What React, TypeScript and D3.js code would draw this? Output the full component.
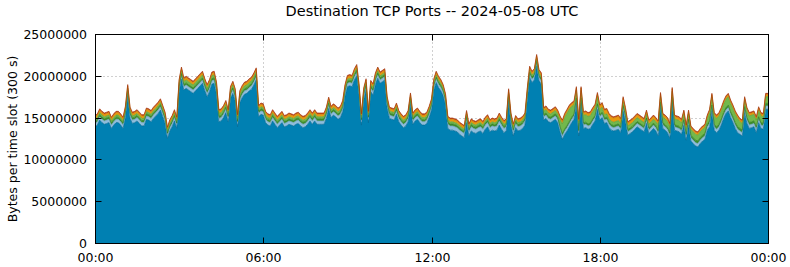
import React from "react";
import * as d3 from "d3";

// 5-minute slots, 00:00 .. 24:00 (289 points), values in millions of bytes per slot
const slotMinutes = 5;

const blueTcp = [
  13.9,14.1,14.7,14.4,14.2,14.3,14.4,13.7,14.1,14.4,14.4,14.1,
  13.7,15.0,17.6,14.9,14.3,14.4,14.6,14.3,14.0,14.0,14.8,14.7,
  14.5,14.9,15.2,15.5,15.9,15.1,14.3,12.5,13.4,13.9,14.6,13.7,
  18.1,19.6,18.3,18.5,18.3,18.1,17.9,18.2,18.5,18.8,19.1,18.2,
  17.5,18.1,19.0,19.1,17.8,14.5,14.6,15.0,15.6,14.5,17.3,17.9,
  17.0,13.9,16.8,17.4,17.8,17.9,18.2,18.4,18.9,19.5,15.1,15.4,
  15.3,14.4,14.1,14.0,14.6,14.2,13.8,14.1,14.4,13.9,14.0,14.2,
  14.1,14.0,14.2,14.3,14.0,13.8,13.9,14.2,14.6,14.2,14.6,14.2,
  14.2,14.2,14.2,14.9,16.1,15.0,15.3,15.1,14.8,15.0,15.7,17.6,
  18.7,18.8,18.7,19.5,20.0,17.7,14.1,17.2,18.3,14.4,18.1,17.7,
  19.0,19.7,19.1,19.3,19.5,16.2,14.9,14.8,14.7,15.4,14.5,14.1,
  13.8,14.0,14.5,16.6,14.2,14.6,14.8,14.4,14.1,14.1,14.3,15.0,
  15.9,18.3,19.2,18.6,18.2,17.6,16.5,13.7,13.5,13.5,13.4,13.3,
  13.0,12.8,12.6,14.4,12.8,13.4,13.2,13.1,13.3,13.4,13.1,13.6,
  13.9,13.3,13.5,13.4,13.5,14.1,13.6,13.2,13.4,17.0,14.1,12.8,
  13.8,13.4,13.5,13.7,14.1,17.2,19.8,19.2,19.5,21.2,19.4,19.0,
  14.7,14.9,14.5,14.4,14.6,14.8,14.4,13.3,12.4,13.0,13.4,13.9,
  14.4,14.8,16.7,12.8,16.7,13.7,13.8,13.6,13.7,14.2,14.6,16.0,
  14.7,15.0,14.3,14.4,13.8,13.5,13.4,13.5,13.6,13.2,15.8,14.6,
  12.9,13.1,13.3,13.6,13.9,13.7,13.5,13.3,14.3,13.1,13.4,13.7,
  13.4,12.8,16.2,13.7,13.5,13.2,12.5,16.8,13.5,13.4,13.3,13.0,
  14.1,12.3,14.1,12.2,11.9,11.6,11.5,11.9,12.2,12.4,13.5,13.9,
  15.8,13.5,13.2,13.5,14.1,14.9,15.5,15.8,15.0,14.4,13.7,13.2,
  13.0,12.8,15.6,14.3,13.7,13.8,13.9,13.2,14.4,13.7,13.6,16.0,
  16.0,
];

const lightBlueTcp = [
  .4,.4,.4,.4,.4,.4,.4,.4,.4,.4,.4,.4,
  .4,.4,.4,.4,.4,.4,.4,.4,.4,.4,.4,.4,
  .4,.4,.4,.4,.4,.4,.4,.4,.4,.4,.4,.4,
  .4,.4,.4,.4,.4,.4,.4,.4,.4,.4,.4,.4,
  .4,.4,.4,.4,.4,.4,.4,.4,.4,.4,.4,.4,
  .4,.4,.4,.4,.4,.4,.4,.4,.4,.4,.4,.4,
  .4,.4,.4,.4,.4,.4,.4,.4,.4,.4,.4,.4,
  .4,.4,.4,.4,.4,.4,.4,.4,.4,.4,.4,.4,
  .4,.4,.4,.4,.4,.4,.4,.4,.4,.4,.4,.4,
  .4,.4,.4,.4,.4,.4,.4,.4,.4,.4,.4,.4,
  .4,.4,.4,.4,.4,.4,.4,.4,.4,.4,.4,.4,
  .4,.4,.4,.4,.4,.4,.4,.4,.4,.4,.4,.4,
  .4,.4,.4,.4,.4,.4,.4,.5,.5,.5,.5,.5,
  .5,.5,.5,.5,.5,.5,.5,.5,.5,.5,.5,.5,
  .5,.5,.5,.5,.5,.5,.5,.5,.5,.5,.5,.5,
  .5,.5,.5,.5,.5,.4,.4,.4,.4,.4,.4,.4,
  .4,.4,.4,.4,.4,.4,.4,.4,.4,.4,.4,.4,
  .4,.4,.4,.4,.4,.4,.4,.4,.4,.4,.4,.4,
  .4,.4,.4,.4,.4,.4,.4,.4,.4,.4,.4,.4,
  .4,.4,.4,.4,.4,.4,.4,.4,.4,.4,.4,.4,
  .4,.4,.4,.4,.4,.4,.4,.4,.4,.4,.4,.4,
  .4,.4,.4,.4,.4,.4,.4,.4,.4,.4,.4,.4,
  .4,.4,.4,.4,.4,.4,.4,.4,.4,.4,.4,.4,
  .4,.4,.4,.4,.4,.4,.4,.4,.4,.4,.4,.4,
  .4,
];

const darkGreenTcp = [
  .25,.25,.25,.25,.25,.25,.25,.25,.25,.25,.25,.25,
  .25,.25,.25,.25,.25,.25,.25,.25,.25,.25,.25,.25,
  .25,.25,.25,.25,.25,.25,.25,.25,.25,.25,.25,.25,
  .25,.25,.25,.25,.25,.25,.25,.25,.25,.25,.25,.25,
  .25,.25,.25,.25,.25,.25,.25,.25,.25,.25,.25,.25,
  .25,.25,.25,.25,.25,.25,.25,.25,.25,.25,.25,.25,
  .25,.25,.25,.25,.25,.25,.25,.25,.25,.25,.25,.25,
  .25,.25,.25,.25,.25,.25,.25,.25,.25,.25,.25,.25,
  .25,.25,.25,.25,.25,.25,.25,.25,.25,.25,.25,.25,
  .25,.25,.25,.25,.25,.25,.25,.25,.25,.25,.25,.25,
  .25,.25,.25,.25,.25,.25,.25,.25,.25,.25,.25,.25,
  .25,.25,.25,.25,.25,.25,.25,.25,.25,.25,.25,.25,
  .25,.25,.25,.25,.25,.25,.25,.25,.25,.25,.25,.25,
  .25,.25,.25,.25,.25,.25,.25,.25,.25,.25,.25,.25,
  .25,.25,.25,.25,.25,.25,.25,.25,.25,.25,.25,.25,
  .25,.25,.25,.25,.25,.25,.25,.25,.25,.25,.25,.25,
  .25,.25,.25,.25,.25,.25,.25,.25,.25,.25,.25,.25,
  .25,.25,.25,.25,.25,.25,.25,.25,.25,.25,.25,.25,
  .25,.25,.25,.25,.25,.25,.25,.25,.25,.25,.25,.25,
  .25,.25,.25,.25,.25,.25,.25,.25,.25,.25,.25,.25,
  .25,.25,.25,.25,.25,.25,.25,.25,.25,.25,.25,.25,
  .25,.3,.3,.3,.3,.3,.3,.3,.3,.3,.3,.3,
  .3,.3,.3,.3,.3,.3,.3,.3,.3,.3,.3,.3,
  .3,.3,.3,.3,.3,.3,.3,.3,.3,.3,.3,.3,
  .3,
];

const lightGreenTcp = [
  .25,.25,.25,.25,.25,.25,.25,.25,.25,.25,.25,.25,
  .25,.25,.25,.25,.25,.25,.25,.25,.25,.25,.25,.25,
  .25,.25,.25,.25,.25,.25,.25,.25,.25,.25,.25,.25,
  .35,.35,.35,.35,.35,.35,.35,.35,.35,.35,.35,.35,
  .35,.35,.35,.35,.35,.35,.35,.35,.35,.35,.35,.35,
  .35,.35,.35,.35,.35,.35,.35,.35,.35,.35,.25,.25,
  .25,.25,.25,.25,.25,.25,.25,.25,.25,.25,.25,.25,
  .25,.25,.25,.25,.25,.25,.25,.25,.25,.25,.25,.25,
  .25,.25,.25,.25,.25,.25,.25,.25,.25,.25,.25,.25,
  .25,.25,.25,.25,.25,.25,.25,.25,.25,.25,.25,.25,
  .25,.25,.25,.25,.25,.25,.25,.25,.25,.25,.25,.25,
  .25,.25,.25,.25,.25,.25,.25,.25,.25,.25,.25,.25,
  .25,.25,.25,.25,.25,.25,.25,.25,.25,.25,.25,.25,
  .25,.25,.25,.25,.25,.25,.25,.25,.25,.25,.25,.25,
  .25,.25,.25,.25,.25,.25,.25,.25,.25,.25,.25,.25,
  .25,.25,.25,.25,.25,.25,.25,.25,.25,.25,.25,.25,
  .4,.4,.4,.4,.4,.4,.4,.8,1.2,1.4,1.5,1.5,
  1.3,1.1,.9,.9,.9,.9,.9,.9,.9,.9,.9,.9,
  .6,.6,.4,.4,.4,.4,.4,.4,.4,.4,.4,.45,
  .45,.45,.45,.45,.45,.45,.45,.45,.45,.45,.45,.45,
  .45,.7,.7,.7,.7,.7,.7,.7,.7,.7,.7,.7,
  .7,.7,.7,.7,.7,.7,.7,.7,.7,.7,.7,1.0,
  1.0,1.0,1.0,1.0,1.0,1.0,1.0,1.0,1.0,1.0,1.0,1.0,
  .8,.8,.8,.8,.8,.8,.8,.8,.8,.8,.8,.8,
  .8,
];

const orangeTcp = [
  .3,.3,.3,.3,.3,.3,.3,.3,.3,.3,.3,.3,
  .3,.3,.3,.3,.3,.3,.3,.3,.3,.3,.3,.3,
  .3,.3,.3,.3,.3,.3,.3,.3,.3,.3,.3,.3,
  .3,.3,.3,.3,.3,.3,.3,.3,.3,.3,.3,.3,
  .3,.3,.3,.3,.3,.3,.3,.3,.3,.3,.3,.3,
  .3,.3,.3,.3,.3,.3,.3,.3,.3,.3,.3,.3,
  .3,.3,.3,.3,.3,.3,.3,.3,.3,.3,.3,.3,
  .3,.3,.3,.3,.3,.3,.3,.3,.3,.3,.3,.3,
  .3,.3,.3,.3,.3,.3,.3,.3,.3,.3,.3,.3,
  .3,.3,.3,.3,.3,.3,.3,.3,.3,.3,.3,.3,
  .3,.3,.3,.3,.3,.3,.3,.3,.3,.3,.3,.3,
  .3,.3,.3,.3,.3,.3,.3,.3,.3,.3,.3,.3,
  .3,.3,.3,.3,.3,.3,.3,.3,.3,.3,.3,.3,
  .3,.3,.3,.3,.3,.3,.3,.3,.3,.3,.3,.3,
  .3,.3,.3,.3,.3,.3,.3,.3,.3,.3,.3,.3,
  .3,.3,.3,.3,.3,.3,.3,.3,.3,.3,.3,.3,
  .3,.3,.3,.3,.3,.3,.3,.3,.3,.3,.3,.3,
  .3,.3,.3,.3,.3,.3,.3,.3,.3,.3,.3,.3,
  .4,.4,.5,.5,.5,.5,.5,.5,.5,.5,.5,.35,
  .35,.35,.35,.35,.35,.35,.35,.35,.35,.35,.35,.35,
  .35,.3,.3,.3,.3,.3,.3,.3,.3,.3,.3,.3,
  .3,.25,.25,.25,.25,.25,.25,.25,.25,.25,.25,.25,
  .25,.25,.25,.25,.25,.25,.25,.25,.25,.25,.25,.25,
  .25,.25,.25,.25,.25,.25,.25,.25,.25,.25,.25,.25,
  .25,
];

const redTcp = blueTcp.map(() => 0.15); // thin, nearly constant top band

const seriesKeys = ["blue", "lightBlue", "darkGreen", "lightGreen", "orange", "red"];
const seriesFill: Record<string, string> = {
  blue: "#0080b2",
  lightBlue: "#8fbddb",
  darkGreen: "#3d8f2c",
  lightGreen: "#72b84c",
  orange: "#e8990e",
  red: "#c5451a",
};
const seriesStroke: Record<string, string> = {
  blue: "#006994",
  lightBlue: "#6c9fc2",
  darkGreen: "#2d7a20",
  lightGreen: "#5a9e38",
  orange: "#cc7f00",
  red: "#a33510",
};

const yTickValues = [0, 5, 10, 15, 20, 25];
const xTickHours = [0, 6, 12, 18, 24];
const xTickLabels = ["00:00", "06:00", "12:00", "18:00", "00:00"];

const title = "Destination TCP Ports -- 2024-05-08 UTC";
const yLabel = "Bytes per time slot (300 s)";

const W = 790;
const H = 267;
const M = { left: 95, right: 22, top: 34, bottom: 24 };
const FONT = "'DejaVu Sans', sans-serif";

export default function App() {
  const x = d3.scaleLinear().domain([0, 24 * 60]).range([M.left, W - M.right]);
  const y = d3.scaleLinear().domain([0, 25]).range([H - M.bottom, M.top]);

  const rows = blueTcp.map((b, i) => ({
    t: i * slotMinutes,
    blue: b,
    lightBlue: lightBlueTcp[i],
    darkGreen: darkGreenTcp[i],
    lightGreen: lightGreenTcp[i],
    orange: orangeTcp[i],
    red: redTcp[i],
  }));
  const stacked = d3.stack<any>().keys(seriesKeys)(rows);
  const area = d3
    .area<any>()
    .x((d) => x(d.data.t))
    .y0((d) => y(d[0]))
    .y1((d) => y(d[1]));
  const topLine = d3
    .line<any>()
    .x((d) => x(d.data.t))
    .y((d) => y(d[1]));

  const x0 = M.left + 0.5;
  const x1 = W - M.right + 0.5;
  const yTop = M.top + 0.5;
  const yBot = H - M.bottom + 0.5;
  const fmt = d3.format("d");

  return (
    <svg
      width={W}
      height={H}
      style={{ position: "absolute", left: 0, top: 0, background: "#fff" }}
      fontFamily={FONT}
    >
      <rect x={0} y={0} width={W} height={H} fill="#fff" />
      {/* grid */}
      {yTickValues.slice(1, -1).map((v) => (
        <line
          key={"gy" + v}
          x1={x0}
          x2={x1}
          y1={Math.round(y(v)) + 0.5}
          y2={Math.round(y(v)) + 0.5}
          stroke="#a0a0a0"
          strokeDasharray="1,3"
        />
      ))}
      {xTickHours.slice(1, -1).map((h) => (
        <line
          key={"gx" + h}
          x1={Math.round(x(h * 60)) + 0.5}
          x2={Math.round(x(h * 60)) + 0.5}
          y1={yTop}
          y2={yBot}
          stroke="#a0a0a0"
          strokeDasharray="1,3"
        />
      ))}
      {/* areas */}
      {stacked.map((s) => (
        <path key={s.key} d={area(s) || ""} fill={seriesFill[s.key]} />
      ))}
      {stacked.map((s) => (
        <path
          key={"l" + s.key}
          d={topLine(s) || ""}
          fill="none"
          stroke={seriesStroke[s.key]}
          strokeWidth={0.7}
        />
      ))}
      {/* frame */}
      <rect
        x={x0}
        y={yTop}
        width={x1 - x0}
        height={yBot - yTop}
        fill="none"
        stroke="#000"
        strokeWidth={1}
      />
      {/* y ticks */}
      {yTickValues.map((v) => {
        const yy = Math.round(y(v)) + 0.5;
        return (
          <g key={"yt" + v}>
            <line x1={x0} x2={x0 + 6} y1={yy} y2={yy} stroke="#000" />
            <line x1={x1 - 6} x2={x1} y1={yy} y2={yy} stroke="#000" />
            <text x={87} y={yy + 4.5} textAnchor="end" fontSize={12.5} fill="#000">
              {fmt(v * 1e6)}
            </text>
          </g>
        );
      })}
      {/* x ticks */}
      {xTickHours.map((h, i) => {
        const xx = Math.round(x(h * 60)) + 0.5;
        return (
          <g key={"xt" + i}>
            <line x1={xx} x2={xx} y1={yBot} y2={yBot - 6} stroke="#000" />
            <line x1={xx} x2={xx} y1={yTop} y2={yTop + 6} stroke="#000" />
            <text x={xx} y={262} textAnchor="middle" fontSize={12.5} fill="#000">
              {xTickLabels[i]}
            </text>
          </g>
        );
      })}
      <text x={432} y={16} textAnchor="middle" fontSize={14.5} fill="#000">
        {title}
      </text>
      <text
        transform={`translate(12, ${(yTop + yBot) / 2}) rotate(-90)`}
        textAnchor="middle"
        dominantBaseline="central"
        fontSize={12.5}
        fill="#000"
      >
        {yLabel}
      </text>
    </svg>
  );
}
